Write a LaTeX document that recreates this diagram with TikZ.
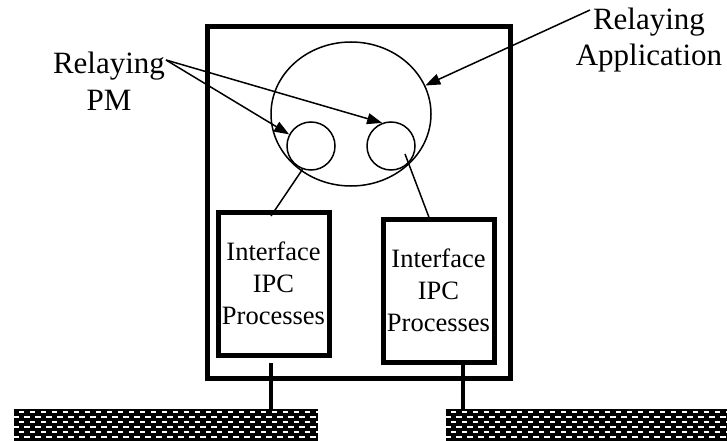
\documentclass[tikz,border=0pt]{standalone}
\usepackage{fontspec}
\setmainfont{Liberation Serif}
\usetikzlibrary{arrows.meta,shapes.geometric,calc}
\begin{document}
\begin{tikzpicture}[x=1pt,y=-1pt,
  thin line/.style={line width=1.5pt},
  pointer/.style={line width=1.5pt,-{Triangle[length=15pt,width=11pt]}},
  heavy frame/.style={draw,line width=5pt,inner sep=0pt,outer sep=0pt},
  ipcbox/.style={heavy frame,minimum width=111pt,minimum height=143pt,
    align=center,font=\fontsize{26.5}{32}\selectfont},
  tag/.style={align=center,inner sep=0pt,font=\fontsize{31}{36.5}\selectfont},
  lan/.style={fill=black,inner sep=0pt,outer sep=0pt,minimum height=32pt},
  stub/.style={line width=4pt}]

\fill[white] (0,0) rectangle (727,441);
\useasboundingbox (0,0) rectangle (727,441);

% relaying system
\node[heavy frame,minimum width=303pt,minimum height=351pt] (sys) at (358.5,202.5) {};

% relaying application and its protocol machines
\node[draw,thin line,ellipse,minimum width=160pt,minimum height=144pt,inner sep=0pt] (app) at (351,114) {};
\node[draw,thin line,circle,minimum size=48pt,inner sep=0pt] (pm1) at (311,146) {};
\node[draw,thin line,circle,minimum size=48pt,inner sep=0pt] (pm2) at (391,146) {};

% interface IPC processes
\node[ipcbox] (ipc1) at (273.5,283.5) {Interface\\IPC\\Processes};
\node[ipcbox] (ipc2) at (438.5,290.5) {Interface\\IPC\\Processes};

% labels
\node[tag] (pmlbl) at (109,81) {Relaying\\PM};
\node[tag] (applbl) at (649,40) {Relaying\\Application};
\coordinate (pmtail) at (166,60);
\coordinate (apptail) at (590,10);

\draw[pointer] (pmtail) -- (pm1.152);
\draw[pointer] (pmtail) -- (pm2.111);
\draw[pointer] (apptail) -- (app.21);

% PM to IPC process bindings
\draw[thin line] (pm1.250) -- ([xshift=-2.5pt,yshift=-4pt]ipc1.north);
\draw[thin line] ([shift={(14pt,-8pt)}]pm2.center) -- ([xshift=-8.5pt,yshift=-1pt]ipc2.north);

% lower-layer networks
\node[lan,minimum width=304pt] (lan1) at (166,425) {};
\node[lan,minimum width=281pt] (lan2) at (586.5,425) {};
\foreach \i in {1,2} {
  \begin{scope}
    \clip (lan\i.north west) rectangle (lan\i.south east);
    \foreach \r in {0,...,6} {
      \pgfmathsetmacro{\off}{mod(\r,2)==0 ? 4.5 : -1}
      \foreach \c in {0,...,28} {
        \fill[white] ($(lan\i.north west)+({\off+11*\c},{2.2+5*\r})$) rectangle ++(5.5,1.7);
      }
    }
  \end{scope}
}

% attachments
\coordinate (s1) at ([xshift=-2.5pt,yshift=-8pt]ipc1.south);
\coordinate (s2) at ([xshift=24.5pt,yshift=-2.5pt]ipc2.south);
\draw[stub] (s1) -- (s1 |- lan1.north);
\draw[stub] (s2) -- (s2 |- lan2.north);
\end{tikzpicture}
\end{document}
